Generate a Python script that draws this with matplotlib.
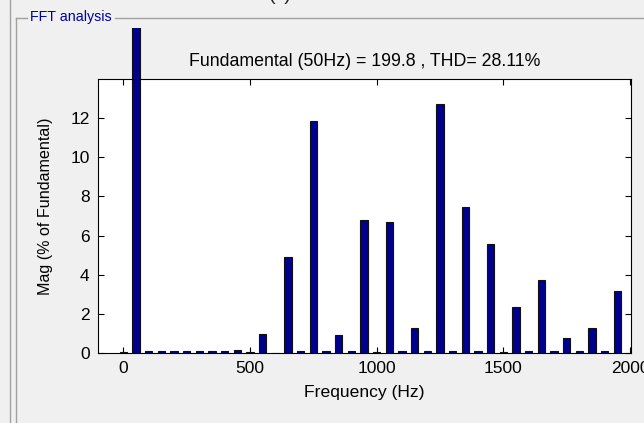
import numpy as np
import matplotlib.pyplot as plt
from matplotlib.lines import Line2D
from matplotlib.transforms import Bbox, TransformedBbox

plt.rcParams['font.family'] = ['Liberation Sans', 'DejaVu Sans']

# Harmonic spectrum (% of fundamental), 50 Hz steps from DC up to 1950 Hz
freqs = np.arange(0, 2000, 50)
mags = [0.03, 100, 0.08, 0.08, 0.08, 0.08, 0.08, 0.08, 0.08, 0.15,
        0.03, 0.95, 0.0, 4.92, 0.08, 11.85, 0.08, 0.92, 0.08, 6.78,
        0.03, 6.70, 0.08, 1.28, 0.08, 12.7, 0.08, 7.45, 0.08, 5.55,
        0.03, 2.35, 0.08, 3.72, 0.08, 0.75, 0.08, 1.28, 0.08, 3.15]
title_txt = "Fundamental (50Hz) = 199.8 , THD= 28.11%"

bg = '#f0f0f0'
fig = plt.figure(figsize=(6.44, 4.23), dpi=100, facecolor=bg)
W, H = 644, 423


def fx(px):
    return px / W


def fy(py):
    return 1 - py / H


# Panel frame ("FFT analysis" group box)
fig.add_artist(Line2D([fx(10), fx(10)], [1, 0], color='#a0a0a0', lw=1))
fig.add_artist(Line2D([fx(16), fx(16)], [fy(18), 0], color='#a0a0a0', lw=1))
fig.add_artist(Line2D([fx(16), fx(27)], [fy(18), fy(18)], color='#a0a0a0', lw=1))
fig.add_artist(Line2D([fx(115), 1], [fy(18), fy(18)], color='#a0a0a0', lw=1))
fig.text(fx(71), fy(17), "FFT analysis", color='#0000a8', fontsize=10.3,
         ha='center', va='center')
fig.text(fx(280), fy(-5), "(c)", color='#202020', fontsize=14,
         ha='center', va='center')

ax = fig.add_axes([fx(98), fy(353), fx(631) - fx(98), fy(79) - fy(353)])
ax.set_facecolor('white')

bars = ax.bar(freqs, mags, width=28, color='#00008f', edgecolor='#101010',
              linewidth=0.8, zorder=2)
# fundamental bar runs past the axes, up to the panel edge
clip = TransformedBbox(Bbox([[fx(98), fy(353)], [fx(631), fy(28)]]),
                       fig.transFigure)
bars[1].set_clip_on(True)
bars[1].set_clip_box(clip)

ax.set_xlim(-100, 2004)
ax.set_ylim(0, 14)
ax.set_xticks([0, 500, 1000, 1500, 2000])
ax.set_yticks([0, 2, 4, 6, 8, 10, 12])
ax.tick_params(direction='in', top=True, right=True, length=4,
               labelsize=12.5, colors='black', pad=6)
for s in ax.spines.values():
    s.set_linewidth(0.8)

ax.set_title(title_txt, fontsize=12.8, pad=9)
ax.set_xlabel("Frequency (Hz)", fontsize=12.6, labelpad=6)
ax.set_ylabel("Mag (% of Fundamental)", fontsize=11.6, labelpad=10)
ax.yaxis.set_label_coords(-0.085, 0.535)

fig.savefig("out.png", dpi=100, facecolor=bg)
